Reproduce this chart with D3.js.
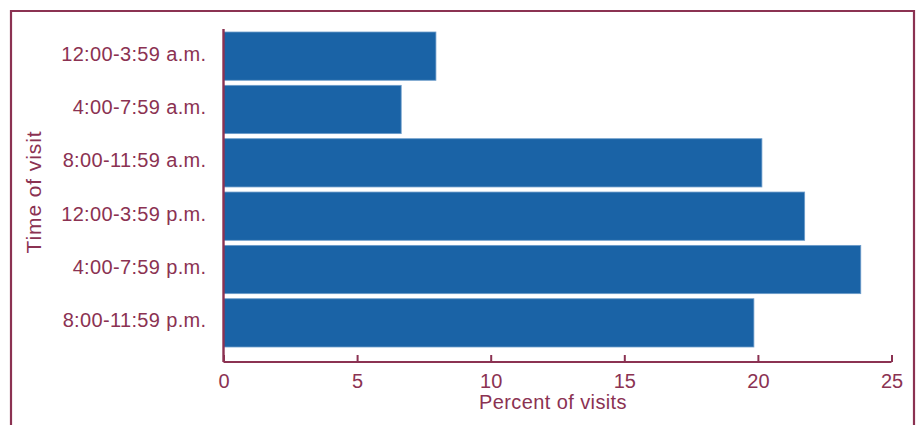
<!DOCTYPE html>
<html>
<head>
<meta charset="utf-8">
<script src="https://cdn.jsdelivr.net/npm/d3@7"></script>
<style>
  html, body { margin: 0; padding: 0; background: #fff; }
  svg { display: block; }
  text { font-family: "Liberation Sans", Arial, Helvetica, sans-serif; }
</style>
</head>
<body>
<svg id="chart" width="916" height="425"></svg>
<script>
const categories = ["12:00-3:59 a.m.", "4:00-7:59 a.m.", "8:00-11:59 a.m.", "12:00-3:59 p.m.", "4:00-7:59 p.m.", "8:00-11:59 p.m."];
const percentVisits = [7.95, 6.65, 20.15, 21.75, 23.85, 19.85];
const xTicks = [0, 5, 10, 15, 20, 25];
const xTitle = "Percent of visits";
const yTitle = "Time of visit";

const maroon = "#8B3252";
const barFill = "#1A63A6";
const barEdge = "#6E9DCB";

const svg = d3.select("#chart");
svg.append("rect").attr("width", 916).attr("height", 425).attr("fill", "#fff");

// frame
svg.append("path")
  .attr("d", "M11,425 L11,11 L914,11 L914,425")
  .attr("fill", "none").attr("stroke", maroon).attr("stroke-width", 2.2);

const x = d3.scaleLinear().domain([0, 25]).range([223.5, 891.5]);
const y = d3.scaleBand().domain(categories).range([32, 347]).paddingInner(0.095).paddingOuter(0);

// bars
svg.append("g").selectAll("rect").data(categories).join("rect")
  .attr("x", x(0))
  .attr("y", d => y(d))
  .attr("width", (d, i) => x(percentVisits[i]) - x(0))
  .attr("height", y.bandwidth())
  .attr("fill", barFill)
  .attr("stroke", barEdge)
  .attr("stroke-width", 0.8);

// x axis
const xAxis = d3.axisBottom(x).tickValues(xTicks).tickSize(-7).tickPadding(0).tickFormat(d3.format("d"));
const gx = svg.append("g").attr("transform", "translate(0,362)").call(xAxis);
gx.select(".domain").attr("stroke", maroon).attr("stroke-width", 2.2).attr("d", `M${x(0)},0H${x(25)}`);
gx.selectAll(".tick line").attr("stroke", maroon).attr("stroke-width", 2);
gx.selectAll(".tick text").attr("fill", maroon).attr("font-size", 20).attr("y", 26).attr("dy", null)
  .attr("font-family", "'Liberation Sans', Arial, sans-serif");

// y axis
const yAxis = d3.axisLeft(y).tickSize(0).tickPadding(17);
const gy = svg.append("g").attr("transform", `translate(${x(0)},0)`).call(yAxis);
gy.select(".domain").attr("stroke", maroon).attr("stroke-width", 2.4).attr("d", "M0,29V362");
gy.selectAll(".tick text").attr("fill", maroon).attr("font-size", 20).attr("dy", "0.22em")
  .attr("letter-spacing", 0.35)
  .attr("font-family", "'Liberation Sans', Arial, sans-serif");

// titles
svg.append("text").attr("x", 553).attr("y", 409).attr("text-anchor", "middle")
  .attr("fill", maroon).attr("font-size", 20).attr("letter-spacing", 0.4).text(xTitle);
svg.append("text").attr("transform", "translate(40.5,192) rotate(-90)").attr("text-anchor", "middle")
  .attr("fill", maroon).attr("font-size", 21).attr("letter-spacing", 0.9).text(yTitle);
</script>
</body>
</html>
